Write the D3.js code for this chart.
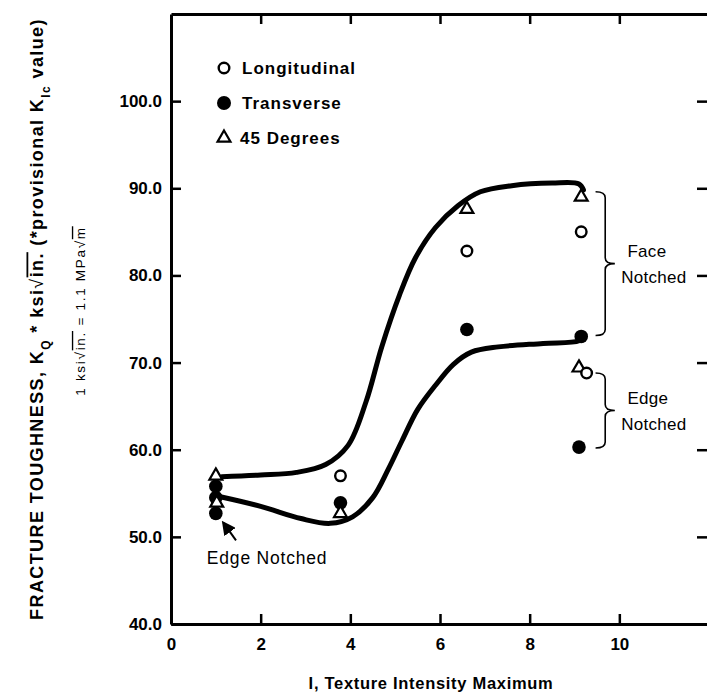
<!DOCTYPE html>
<html>
<head>
<meta charset="utf-8">
<script src="https://cdn.jsdelivr.net/npm/d3@7"></script>
<style>
  html, body { margin: 0; padding: 0; background: #fff; }
  svg text { font-family: "Liberation Sans", Arial, Helvetica, sans-serif; fill: #000; }
</style>
</head>
<body>
<div class="container"></div>
<script>
// ---- data ----
const xTicks = [0, 2, 4, 6, 8, 10];
const yTicks = [40, 50, 60, 70, 80, 90, 100];

// [texture intensity, K value]
const longitudinal = [[3.78, 57.0], [6.6, 82.8], [9.15, 85.0], [9.27, 68.8]];
const transverse = [[1.0, 55.8], [1.0, 54.5], [1.0, 52.7], [3.78, 53.9], [6.6, 73.8], [9.15, 73.0], [9.1, 60.3]];
const degrees45 = [[1.0, 57.0], [1.02, 53.9], [3.78, 52.7], [6.6, 87.6], [9.15, 89.0], [9.1, 69.4]];

// hand drawn trend curves
const faceCurve = [[1.13, 56.9], [2.0, 57.1], [2.8, 57.4], [3.45, 58.3], [3.95, 60.5], [4.35, 65.5], [4.7, 71.8],
  [5.1, 77.8], [5.45, 82.0], [5.9, 85.5], [6.4, 88.0], [6.9, 89.6], [7.6, 90.3], [8.5, 90.6], [9.1, 90.5], [9.2, 89.8]];
const edgeCurve = [[1.1, 54.6], [2.0, 53.5], [2.9, 52.1], [3.55, 51.55], [4.05, 52.3], [4.5, 54.5], [4.85, 57.8],
  [5.15, 61.0], [5.5, 64.6], [5.9, 67.4], [6.3, 69.8], [6.7, 71.2], [7.3, 71.8], [8.3, 72.2], [9.1, 72.5], [9.2, 73.0]];

const legendLabels = ["Longitudinal", "Transverse", "45 Degrees"];
const braceGroups = [
  { lines: ["Face", "Notched"], top: 89.6, bottom: 73.1 },
  { lines: ["Edge", "Notched"], top: 68.8, bottom: 60.2 }
];

// ---- layout ----
const WIDTH = 707, HEIGHT = 692;
const MARGIN = { left: 171, right: -2, top: 14, bottom: 68 };

const svg = d3.select(".container").append("svg")
  .attr("width", WIDTH)
  .attr("height", HEIGHT);

const x = d3.scaleLinear()
  .domain([0, 12])
  .range([MARGIN.left, WIDTH - MARGIN.right]);

const y = d3.scaleLinear()
  .domain([40, 110])
  .range([HEIGHT - MARGIN.bottom, MARGIN.top]);

const styleAxis = g => {
  g.select(".domain").attr("stroke", "#000").attr("stroke-width", 3);
  g.selectAll(".tick line").attr("stroke", "#000").attr("stroke-width", 2.5);
  g.selectAll(".tick text").attr("font-weight", "bold").attr("fill", "#000");
};

// bottom axis, ticks point inward
svg.append("g")
  .attr("transform", `translate(0,${y(40)})`)
  .call(d3.axisBottom(x).tickValues(xTicks).tickSizeInner(-10).tickSizeOuter(0).tickPadding(14))
  .call(styleAxis)
  .selectAll(".tick text").attr("font-size", 17);

// top axis
svg.append("g")
  .attr("transform", `translate(0,${y(110)})`)
  .call(d3.axisTop(x).tickValues(xTicks.slice(1)).tickSizeInner(-10).tickSizeOuter(0).tickFormat(""))
  .call(styleAxis);

// left axis
svg.append("g")
  .attr("transform", `translate(${x(0)},0)`)
  .call(d3.axisLeft(y).tickValues(yTicks).tickSizeInner(-10).tickSizeOuter(0).tickPadding(9).tickFormat(d3.format(".1f")))
  .call(styleAxis)
  .selectAll(".tick text").attr("font-size", 17);

// right axis (frame line just off the page)
svg.append("g")
  .attr("transform", `translate(${x(12)},0)`)
  .call(d3.axisRight(y).tickValues(yTicks.slice(1)).tickSizeInner(-12).tickSizeOuter(0).tickFormat(""))
  .call(styleAxis);

// ---- trend curves ----
const line = d3.line()
  .x(d => x(d[0]))
  .y(d => y(d[1]))
  .curve(d3.curveCatmullRom.alpha(0.5));

[faceCurve, edgeCurve].forEach(c => {
  svg.append("path")
    .datum(c)
    .attr("fill", "none")
    .attr("stroke", "#000")
    .attr("stroke-width", 5)
    .attr("stroke-linecap", "round")
    .attr("d", line);
});

// ---- points ----
const tri = d3.symbol().type(d3.symbolTriangle).size(72);

svg.append("g").selectAll("circle")
  .data(transverse)
  .enter()
  .append("circle")
  .attr("cx", d => x(d[0]))
  .attr("cy", d => y(d[1]))
  .attr("r", 6.8)
  .attr("fill", "#000");

svg.append("g").selectAll("path")
  .data(degrees45)
  .enter()
  .append("path")
  .attr("transform", d => `translate(${x(d[0])},${y(d[1])})`)
  .attr("d", tri)
  .attr("fill", "#fff")
  .attr("stroke", "#000")
  .attr("stroke-width", 2.2);

svg.append("g").selectAll("circle")
  .data(longitudinal)
  .enter()
  .append("circle")
  .attr("cx", d => x(d[0]))
  .attr("cy", d => y(d[1]))
  .attr("r", 5.3)
  .attr("fill", "#fff")
  .attr("stroke", "#000")
  .attr("stroke-width", 2.4);

// ---- legend ----
const legend = svg.append("g").attr("transform", "translate(224,68)");
legendLabels.forEach((label, i) => {
  const row = legend.append("g").attr("transform", `translate(0,${i * 35})`);
  if (i === 0) {
    row.append("circle").attr("r", 5.3).attr("fill", "#fff").attr("stroke", "#000").attr("stroke-width", 2.4);
  } else if (i === 1) {
    row.append("circle").attr("r", 7).attr("fill", "#000");
  } else {
    row.append("path").attr("d", tri).attr("fill", "#fff").attr("stroke", "#000").attr("stroke-width", 2.2);
  }
  row.append("text")
    .attr("x", i === 2 ? 16 : 18)
    .attr("dy", "0.36em")
    .attr("font-size", 17)
    .attr("font-weight", "bold")
    .attr("letter-spacing", 1)
    .text(label);
});

// ---- braces ----
const brace = (x0, x1, yTop, yBot) => {
  const xm = (x0 + x1) / 2, ym = (yTop + yBot) / 2, r = 6;
  return `M${x0},${yTop} Q${xm},${yTop} ${xm},${yTop + r} L${xm},${ym - r} Q${xm},${ym} ${x1},${ym}`
    + ` Q${xm},${ym} ${xm},${ym + r} L${xm},${yBot - r} Q${xm},${yBot} ${x0},${yBot}`;
};

braceGroups.forEach(b => {
  svg.append("path")
    .attr("d", brace(x(9.47), x(9.9), y(b.top), y(b.bottom)))
    .attr("fill", "none")
    .attr("stroke", "#000")
    .attr("stroke-width", 1.6);
  const mid = (y(b.top) + y(b.bottom)) / 2;
  b.lines.forEach((t, i) => {
    svg.append("text")
      .attr("x", x(i === 0 ? 10.18 : 10.04))
      .attr("y", mid + (i - 0.5) * 26)
      .attr("dy", "0.36em")
      .attr("font-size", 17)
      .attr("letter-spacing", 0.3)
      .text(t);
  });
});

// ---- "Edge Notched" callout with arrow ----
svg.append("defs").append("marker")
  .attr("id", "arrow")
  .attr("viewBox", "0 0 10 10")
  .attr("refX", 8).attr("refY", 5)
  .attr("markerWidth", 7).attr("markerHeight", 7)
  .attr("orient", "auto")
  .append("path")
  .attr("d", "M0,0 L10,5 L0,10 Z")
  .attr("fill", "#000");

svg.append("line")
  .attr("x1", x(1.45)).attr("y1", y(49.6))
  .attr("x2", x(1.17)).attr("y2", y(51.6))
  .attr("stroke", "#000")
  .attr("stroke-width", 2)
  .attr("marker-end", "url(#arrow)");

svg.append("text")
  .attr("x", x(0.8))
  .attr("y", y(47.6))
  .attr("dy", "0.36em")
  .attr("font-size", 17.5)
  .attr("letter-spacing", 0.8)
  .text("Edge Notched");

// ---- axis titles ----
svg.append("text")
  .attr("x", x(5.8))
  .attr("y", 683)
  .attr("dy", "0.36em")
  .attr("text-anchor", "middle")
  .attr("font-size", 16.5)
  .attr("font-weight", "bold")
  .attr("letter-spacing", 0.7)
  .text("I, Texture Intensity Maximum");

const yTitle = svg.append("text")
  .attr("transform", `translate(37,${(y(40) + y(110)) / 2}) rotate(-90)`)
  .attr("text-anchor", "middle")
  .attr("dy", "0.36em")
  .attr("font-size", 18)
  .attr("font-weight", "bold")
  .attr("letter-spacing", 1.4);
yTitle.append("tspan").text("FRACTURE TOUGHNESS, K");
yTitle.append("tspan").attr("baseline-shift", "sub").attr("font-size", 12).text("Q");
yTitle.append("tspan").text(" * ksi");
yTitle.append("tspan").attr("font-weight", "normal").text("√");
yTitle.append("tspan").attr("text-decoration", "overline").text("in.");
yTitle.append("tspan").text(" (*provisional K");
yTitle.append("tspan").attr("baseline-shift", "sub").attr("font-size", 12).text("Ic");
yTitle.append("tspan").text(" value)");

const yNote = svg.append("text")
  .attr("transform", `translate(80,${(y(40) + y(110)) / 2 - 8}) rotate(-90)`)
  .attr("text-anchor", "middle")
  .attr("dy", "0.36em")
  .attr("font-size", 13.5)
  .attr("letter-spacing", 1.7);
yNote.append("tspan").text("1 ksi√");
yNote.append("tspan").attr("text-decoration", "overline").text("in.");
yNote.append("tspan").text(" = 1.1 MPa√");
yNote.append("tspan").attr("text-decoration", "overline").text("m");
</script>
</body>
</html>
